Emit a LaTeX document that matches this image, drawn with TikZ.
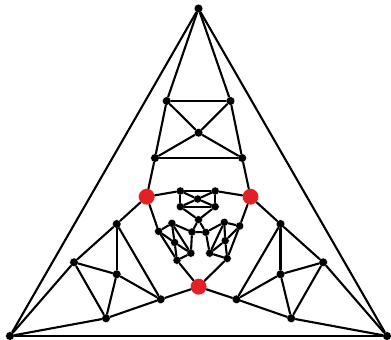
\documentclass[tikz,border=0pt]{standalone}
\usepackage{tikz}
\definecolor{vred}{RGB}{226,32,38}

\begin{document}
\begin{tikzpicture}[x=1pt, y=-1pt, line join=round, line cap=round]
  % styles: black vertices, red vertices, edges
  \tikzset{
    edge line/.style={line width=2.1pt, draw=black},
    dot/.style={circle, fill=black, draw=white, line width=0.4pt, inner sep=0pt, minimum size=8.8pt},
    small dot/.style={dot, minimum size=8.2pt},
    red dot/.style={circle, fill=vred, draw=white, line width=0.4pt, inner sep=0pt, minimum size=16.5pt}
  }
  \useasboundingbox (0,0) rectangle (391,340);

  % =======================
  % outer triangle
  % =======================
  \node[dot] (T)  at (198.5,8.5) {};   % top
  \node[dot] (BL) at (10,336) {};      % bottom left
  \node[dot] (BR) at (387,336) {};     % bottom right

  % red vertices
  \node[red dot] (R1) at (146.7,196.7) {};
  \node[red dot] (R2) at (250.5,196.7) {};
  \node[red dot] (R3) at (198.6,286.7) {};

  % top gadget
  \node[dot] (a1) at (166.7,101) {};
  \node[dot] (a2) at (230.5,101) {};
  \node[dot] (a3) at (198.6,132.7) {};
  \node[dot] (a4) at (155,158) {};
  \node[dot] (a5) at (242.2,158) {};

  % left gadget
  \node[dot] (b1) at (116.7,224) {};
  \node[dot] (b2) at (74,262.3) {};
  \node[dot] (b3) at (116.7,274.3) {};
  \node[dot] (b4) at (160.7,299.3) {};
  \node[dot] (b5) at (106,318.3) {};

  % right gadget
  \node[dot] (c1) at (280.5,224) {};
  \node[dot] (c2) at (323.2,262.3) {};
  \node[dot] (c3) at (280.5,274.3) {};
  \node[dot] (c4) at (236.5,299.3) {};
  \node[dot] (c5) at (291.2,318.3) {};

  % =======================
  % inner copy
  % =======================
  \node[small dot] (d1) at (180.3,191) {};
  \node[small dot] (d2) at (215.2,191) {};
  \node[small dot] (d3) at (197.7,199) {};
  \node[small dot] (d4) at (180.3,206.7) {};
  \node[small dot] (d5) at (215.2,206.7) {};
  \node[small dot] (d6) at (198.5,219.7) {};

  \node[small dot] (g1) at (192,232) {};
  \node[small dot] (g2) at (205.8,232.3) {};

  \node[small dot] (e1) at (158.6,231.3) {};
  \node[small dot] (e2) at (171.9,223.3) {};
  \node[small dot] (e3) at (174.6,242.5) {};
  \node[small dot] (e4) at (177,260.3) {};
  \node[small dot] (e5) at (190.9,253.2) {};

  \node[small dot] (f1) at (239.7,226) {};
  \node[small dot] (f2) at (224.3,222.3) {};
  \node[small dot] (f3) at (225.2,240.7) {};
  \node[small dot] (f4) at (227.2,258.5) {};
  \node[small dot] (f5) at (209.7,253.2) {};

  % outer edges
  \draw[edge line] (T) -- (BL);
  \draw[edge line] (T) -- (BR);
  \draw[edge line] (BL) -- (BR);

  % top gadget edges
  \draw[edge line] (T) -- (a1);
  \draw[edge line] (T) -- (a2);
  \draw[edge line] (a1) -- (a2);
  \draw[edge line] (a4) -- (a5);
  \draw[edge line] (a1) -- (a4);
  \draw[edge line] (a2) -- (a5);
  \draw[edge line] (a1) -- (a3);
  \draw[edge line] (a2) -- (a3);
  \draw[edge line] (a4) -- (a3);
  \draw[edge line] (a5) -- (a3);
  \draw[edge line] (a4) -- (R1);
  \draw[edge line] (a5) -- (R2);

  % left gadget edges
  \draw[edge line] (R1) -- (b1);
  \draw[edge line] (b1) -- (b2);
  \draw[edge line] (b1) -- (b3);
  \draw[edge line] (b1) -- (b4);
  \draw[edge line] (b2) -- (b3);
  \draw[edge line] (b3) -- (b4);
  \draw[edge line] (b2) -- (b5);
  \draw[edge line] (b3) -- (b5);
  \draw[edge line] (b4) -- (b5);
  \draw[edge line] (b2) -- (BL);
  \draw[edge line] (b5) -- (BL);
  \draw[edge line] (b4) -- (R3);

  % right gadget edges
  \draw[edge line] (R2) -- (c1);
  \draw[edge line] (c1) -- (c2);
  \draw[edge line] (c1) -- (c3);
  \draw[edge line] (c1) -- (c4);
  \draw[edge line] (c2) -- (c3);
  \draw[edge line] (c3) -- (c4);
  \draw[edge line] (c2) -- (c5);
  \draw[edge line] (c3) -- (c5);
  \draw[edge line] (c4) -- (c5);
  \draw[edge line] (c2) -- (BR);
  \draw[edge line] (c5) -- (BR);
  \draw[edge line] (c4) -- (R3);

  % inner top gadget edges
  \draw[edge line] (R1) -- (d1);
  \draw[edge line] (R2) -- (d2);
  \draw[edge line] (d1) -- (d2);
  \draw[edge line] (d4) -- (d5);
  \draw[edge line] (d1) -- (d4);
  \draw[edge line] (d2) -- (d5);
  \draw[edge line] (d1) -- (d3);
  \draw[edge line] (d2) -- (d3);
  \draw[edge line] (d4) -- (d3);
  \draw[edge line] (d5) -- (d3);
  \draw[edge line] (d4) -- (d6);
  \draw[edge line] (d5) -- (d6);

  % inner triangle
  \draw[edge line] (d6) -- (g1);
  \draw[edge line] (d6) -- (g2);
  \draw[edge line] (g1) -- (g2);

  % inner left gadget edges
  \draw[edge line] (R1) -- (e1);
  \draw[edge line] (e1) -- (e2);
  \draw[edge line] (e1) -- (e3);
  \draw[edge line] (e1) -- (e4);
  \draw[edge line] (e2) -- (e3);
  \draw[edge line] (e3) -- (e4);
  \draw[edge line] (e2) -- (e5);
  \draw[edge line] (e3) -- (e5);
  \draw[edge line] (e4) -- (e5);
  \draw[edge line] (e2) -- (g1);
  \draw[edge line] (e5) -- (g1);
  \draw[edge line] (e4) -- (R3);

  % inner right gadget edges
  \draw[edge line] (R2) -- (f1);
  \draw[edge line] (f1) -- (f2);
  \draw[edge line] (f1) -- (f3);
  \draw[edge line] (f1) -- (f4);
  \draw[edge line] (f2) -- (f3);
  \draw[edge line] (f3) -- (f4);
  \draw[edge line] (f2) -- (f5);
  \draw[edge line] (f3) -- (f5);
  \draw[edge line] (f4) -- (f5);
  \draw[edge line] (f2) -- (g2);
  \draw[edge line] (f5) -- (g2);
  \draw[edge line] (f4) -- (R3);

\end{tikzpicture}
\end{document}
